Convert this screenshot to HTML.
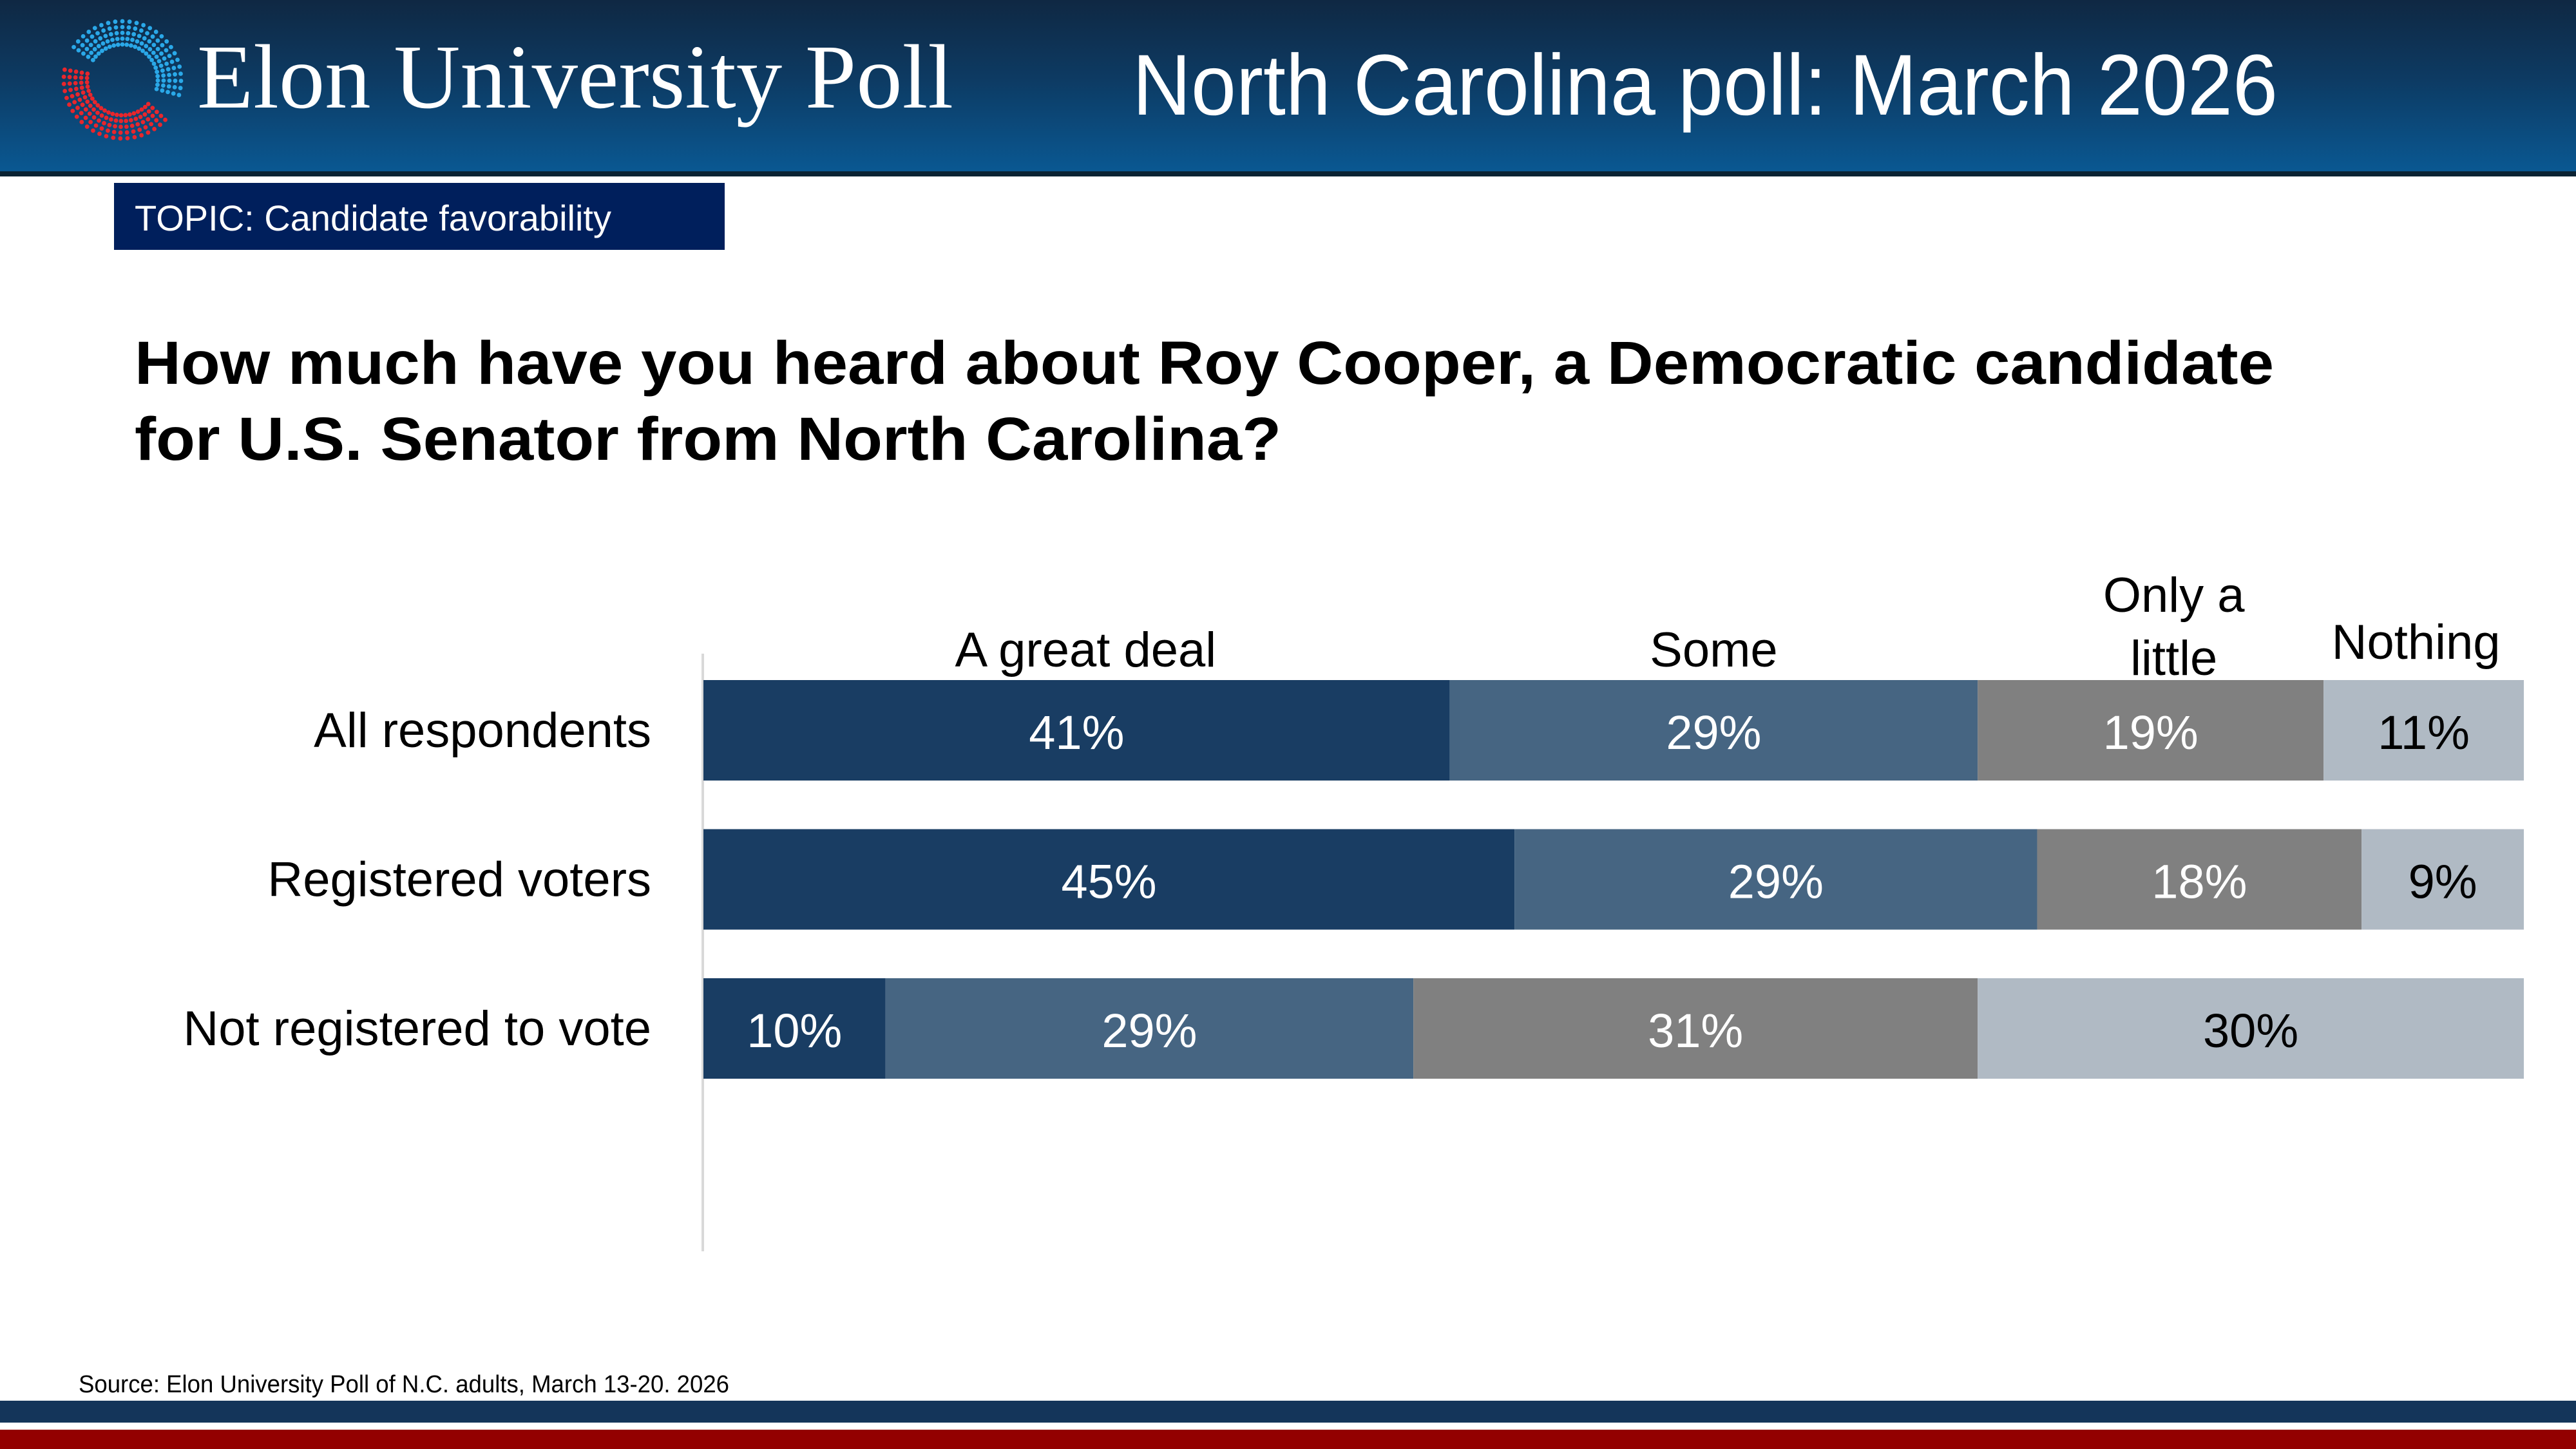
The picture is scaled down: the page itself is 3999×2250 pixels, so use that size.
<!DOCTYPE html>
<html><head><meta charset="utf-8"><style>
html,body{margin:0;padding:0;background:#fff}
svg{display:block}
</style></head><body>
<svg id="s" width="3999" height="2250" viewBox="0 0 3999 2250" xmlns="http://www.w3.org/2000/svg" font-family="Liberation Sans, sans-serif">
<defs>
<linearGradient id="hg" x1="0" y1="0" x2="0" y2="1">
<stop offset="0" stop-color="#0f2843"/><stop offset="0.45" stop-color="#0d3a62"/><stop offset="1" stop-color="#0a5892"/>
</linearGradient>
</defs>
<rect x="0" y="0" width="3999" height="266" fill="url(#hg)"/>
<rect x="0" y="266" width="3999" height="8" fill="#0b2333"/>
<g id="logo"></g>
<text x="306" y="167" font-family="Liberation Serif, serif" font-size="142" fill="#fff" textLength="1174" lengthAdjust="spacingAndGlyphs">Elon University Poll</text>
<text x="1758" y="178" font-size="134" fill="#fff" textLength="1778" lengthAdjust="spacingAndGlyphs">North Carolina poll: March 2026</text>
<rect x="177" y="284" width="948" height="104" fill="#001f5c"/>
<text x="209" y="358" font-size="56" fill="#fff" textLength="740" lengthAdjust="spacingAndGlyphs">TOPIC: Candidate favorability</text>
<text x="209" y="596" font-size="95" font-weight="bold" fill="#000" textLength="3321" lengthAdjust="spacingAndGlyphs">How much have you heard about Roy Cooper, a Democratic candidate</text>
<text x="209" y="714" font-size="95" font-weight="bold" fill="#000" textLength="1780" lengthAdjust="spacingAndGlyphs">for U.S. Senator from North Carolina?</text>
<line x1="1091" y1="1015" x2="1091" y2="1943" stroke="#d9d9d9" stroke-width="4"/>
<g id="chart"></g>
<text x="122" y="2162" font-size="38" fill="#000" textLength="1010" lengthAdjust="spacingAndGlyphs">Source: Elon University Poll of N.C. adults, March 13-20. 2026</text>
<rect x="0" y="2175" width="3999" height="34" fill="#14355a"/>
<rect x="0" y="2220" width="3999" height="30" fill="#930000"/>
</svg>
<script>
const categories = ["All respondents", "Registered voters", "Not registered to vote"];
const seriesNames = ["A great deal", "Some", "Only a little", "Nothing"];
const greatDeal = [41, 45, 10];
const some = [29, 29, 29];
const onlyLittle = [19, 18, 31];
const nothing = [11, 9, 30];
const colors = ["#193d63", "#466582", "#808080", "#b0bac4"];
const textColors = ["#fff", "#fff", "#fff", "#000"];
const NS = "http://www.w3.org/2000/svg";
const chart = document.getElementById('chart');
const x0 = 1092, x1 = 3918, rowTop = 1056, rowStep = 231.5, barH = 156;
const series = [greatDeal, some, onlyLittle, nothing];
function xScale(frac){ return x0 + frac * (x1 - x0); }
function yRow(i){ return rowTop + i * rowStep; }
function mk(tag, attrs){ const e = document.createElementNS(NS, tag); for (const k in attrs) e.setAttribute(k, attrs[k]); return e; }
const firstRowMids = [];
categories.forEach((cat, i) => {
  const total = series.reduce((a, s) => a + s[i], 0);
  let cum = 0;
  const y = yRow(i);
  const lab = mk('text', {x: 1011, y: y + 104, 'font-size': 76, 'text-anchor': 'end', fill: '#000'});
  
  
  lab.textContent = cat;
  chart.appendChild(lab);
  series.forEach((s, j) => {
    const xa = xScale(cum / total); cum += s[i]; const xb = xScale(cum / total);
    const r = mk('rect', {x: xa, y: y, width: xb - xa, height: barH, fill: colors[j]});
    
    
    chart.appendChild(r);
    const t = mk('text', {x: (xa + xb) / 2, y: y + 107, 'font-size': 74, 'text-anchor': 'middle', fill: textColors[j]});
    
    
    t.textContent = s[i] + '%';
    chart.appendChild(t);
    if (i === 0) firstRowMids.push((xa + xb) / 2);
  });
});
const legendLines = [["A great deal"], ["Some"], ["Only a", "little"], ["Nothing"]];
const legendBase = [1035, 1035, 1048, 1023];
const legendShift = [14, 0, 36, -12];
legendLines.forEach((lines, j) => {
  lines.forEach((ln, k) => {
    const t = mk('text', {x: firstRowMids[j] + legendShift[j], y: legendBase[j] - (lines.length - 1 - k) * 98, 'font-size': 76, 'text-anchor': 'middle', fill: '#000'});
    
    
    t.textContent = ln;
    chart.appendChild(t);
  });
});
// logo dots
const logo = document.getElementById('logo');
const cx = 190, cy = 124;
for (let ring = 0; ring < 5; ring++) {
  const rad = 55 + ring * 9;
  for (let a = -160; a <= 200; a += 7) {
    let color;
    if (a >= -150 && a <= 15) color = '#2aa8e8';
    else if (a >= 40 && a <= 195) color = '#e8262c';
    else continue;
    const ang = a * Math.PI / 180;
    const c = mk('circle', {cx: cx + rad * Math.cos(ang), cy: cy + rad * Math.sin(ang), r: 3.4, fill: color});
    
    
    logo.appendChild(c);
  }
}
</script>
</body></html>
